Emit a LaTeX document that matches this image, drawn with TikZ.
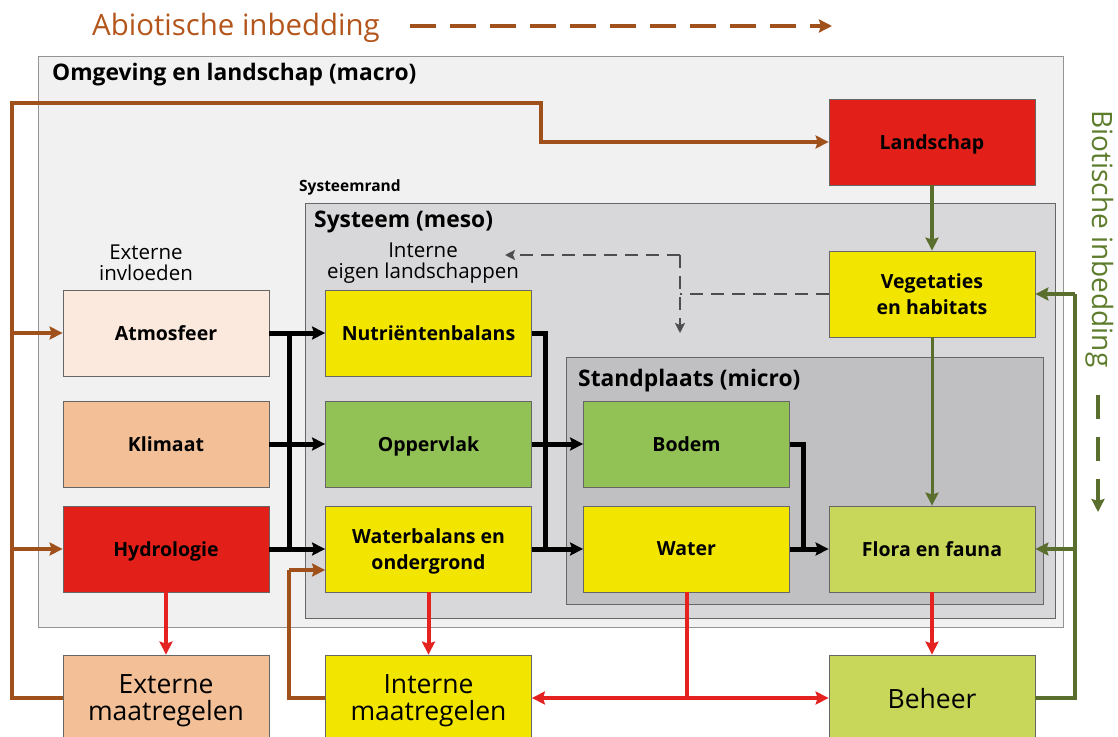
\documentclass[tikz,border=0pt]{standalone}
\usepackage{fontspec}
\setmainfont{Open Sans}
\usepackage{tikz}
\usetikzlibrary{arrows.meta}
\usetikzlibrary{backgrounds}
\usetikzlibrary{calc}
\definecolor{macrogrijs}{HTML}{F1F1F1}
\definecolor{mesogrijs}{HTML}{D8D8DA}
\definecolor{microgrijs}{HTML}{C0C0C2}
\definecolor{rand}{HTML}{666666}
\definecolor{rood}{HTML}{E31F1A}
\definecolor{geel}{HTML}{F2E600}
\definecolor{groen}{HTML}{92C255}
\definecolor{lichtgroen}{HTML}{C8D75A}
\definecolor{perzik}{HTML}{FAE9DC}
\definecolor{oranje}{HTML}{F2BF97}
\definecolor{bruin}{HTML}{A0501A}
\definecolor{bruintekst}{HTML}{B4561C}
\definecolor{donkergroen}{HTML}{5A6E2E}
\definecolor{groentekst}{HTML}{5E7D2C}
\definecolor{lijnrood}{HTML}{E42320}
\definecolor{stippel}{HTML}{4D4D4D}
\tikzset{
blok/.style={draw=rand,line width=0.8pt,minimum width=206pt,minimum height=86pt,inner sep=0pt,text depth=0pt,align=center,font=\bfseries\fontsize{19.5}{26}\selectfont},
maatregel/.style={blok,font=\fontsize{26.5}{27}\selectfont},
kop/.style={anchor=west,inner sep=0pt,font=\bfseries\fontsize{22.8}{26}\selectfont},
bruinpijl/.style={draw=bruin,line width=4pt,-{Stealth[length=13pt,width=13pt,inset=2pt]}},
zwartpijl/.style={draw=black,line width=5pt,-{Stealth[length=13pt,width=13pt,inset=2pt]}},
groenpijl/.style={draw=donkergroen,line width=4pt,-{Stealth[length=13pt,width=13pt,inset=2pt]}},
roodpijl/.style={draw=lijnrood,line width=4pt,-{Stealth[length=13pt,width=13pt,inset=2pt]}},
stippelpijl/.style={draw=stippel,line width=2pt,dash pattern=on 13pt off 8pt,-{Stealth[length=10pt,width=10pt,inset=2pt]}}
}
\begin{document}
\begin{tikzpicture}[x=1pt,y=-1pt]
\path[clip] (0,0) rectangle (1118,736);
\fill[white] (0,0) rectangle (1118,736);
\draw[rand!70,line width=1pt,fill=macrogrijs] (38,56) rectangle (1063,627);
\draw[rand,line width=1pt,fill=mesogrijs] (305,203) rectangle (1055,618);
\draw[rand,line width=1pt,fill=microgrijs] (566,357) rectangle (1043,604);

\node[kop] (MA) at (52,75) {Omgeving en landschap (macro)};
\node[kop,font=\bfseries\fontsize{15.5}{18}\selectfont] (SR) at (299,187) {Systeemrand};
\node[kop] (ME) at (314,222) {Systeem (meso)};
\node[kop] (MI) at (578,381) {Standplaats (micro)};
\node[align=center,inner sep=0pt,font=\fontsize{20.5}{21}\selectfont] (EI) at (146,263) {Externe\\invloeden};
\node[align=center,inner sep=0pt,font=\fontsize{20.5}{21}\selectfont] (II) at (423,263) {Interne\\eigen landschappen};
\node[anchor=west,inner sep=0pt,text=bruintekst,font=\fontsize{29.4}{32}\selectfont] (AB) at (92,28) {Abiotische inbedding};
\node[rotate=-90,inner sep=0pt,text=groentekst,font=\fontsize{28}{30}\selectfont] (BI) at (1100,239) {Biotische inbedding};

\node[blok,fill=rood] (LS) at (932,142) {Landschap};
\node[blok,fill=geel] (VH) at (932,294) {Vegetaties\\en habitats};
\node[blok,fill=perzik] (AT) at (166,333) {Atmosfeer};
\node[blok,fill=oranje] (KL) at (166,444) {Klimaat};
\node[blok,fill=rood] (HY) at (166,549) {Hydrologie};
\node[blok,fill=geel] (NB) at (428.5,333) {Nutriëntenbalans};
\node[blok,fill=groen] (OV) at (428.5,444) {Oppervlak};
\node[blok,fill=geel] (WB) at (428.5,549) {Waterbalans en\\ondergrond};
\node[blok,fill=groen] (BO) at (686.5,444) {Bodem};
\node[blok,fill=geel] (WA) at (686.5,549) {Water};
\node[blok,fill=lichtgroen] (FF) at (932,549) {Flora en fauna};
\node[maatregel,fill=oranje] (EM) at (166,698) {Externe\\maatregelen};
\node[maatregel,fill=geel] (IM) at (428.5,698) {Interne\\maatregelen};
\node[maatregel,fill=lichtgroen] (BH) at (932,698) {Beheer};

\coordinate (K1) at (12,103);
\coordinate (K2) at (541,103);
\coordinate (K3) at (289,570);
\coordinate (Z1) at (289,0);
\coordinate (Z2) at (545,0);
\coordinate (Z3) at (803,0);
\coordinate (G1) at (1075,0);
\coordinate (D1) at (680,255);
\coordinate (D2) at (680,333);
\coordinate (D3) at (505,255);
\coordinate (AE) at (832,26);
\coordinate (BS) at (1098,395);
\coordinate (BE) at (1098,512);

\draw[bruinpijl,dash pattern=on 26pt off 14pt] ([xshift=30]AB.east |- AE) -- (AE);
\draw[groenpijl,dash pattern=on 24pt off 18pt] (BS) -- (BE);

\draw[stippelpijl,-] (VH.west) -- (VH.west -| D1);
\draw[stippelpijl] (D1) -- (D2);
\draw[stippelpijl] (D1) -- (D3);

\draw[bruinpijl,-] (EM.west) -| (K1) -- (K2) |- ([xshift=-12]LS.west);
\draw[bruinpijl] ([xshift=-13]LS.west) -- (LS.west);
\draw[bruinpijl] (K1 |- AT.west) -- (AT.west);
\draw[bruinpijl] (K1 |- HY.west) -- (HY.west);
\draw[bruinpijl,-] (IM.west) -| (K3);
\draw[bruinpijl] (K3) -- (K3 -| WB.west);

\draw[zwartpijl,-] (Z1 |- AT.east) -- (Z1 |- HY.east);
\draw[zwartpijl] (AT.east) -- (NB.west);
\draw[zwartpijl] (KL.east) -- (OV.west);
\draw[zwartpijl] (HY.east) -- (WB.west);
\draw[zwartpijl,-] (NB.east) -| (Z2 |- WA.west);
\draw[zwartpijl] (OV.east) -- (BO.west);
\draw[zwartpijl] (WB.east) -- (WA.west);
\draw[zwartpijl,-] (BO.east) -| (Z3 |- FF.west);
\draw[zwartpijl] (WA.east) -- (FF.west);

\draw[groenpijl] (LS) -- (VH);
\draw[groenpijl,line width=3pt] (VH) -- (FF);
\draw[groenpijl,-] (BH.east) -| (G1 |- VH.east);
\draw[groenpijl] (G1 |- VH.east) -- (VH.east);
\draw[groenpijl] (G1 |- FF.east) -- (FF.east);

\draw[roodpijl] (HY) -- (EM);
\draw[roodpijl] (WB) -- (IM);
\draw[roodpijl] (FF) -- (BH);
\draw[roodpijl,-] (WA.south) -- (WA.south |- BH.west);
\draw[roodpijl,{Stealth[length=13pt,width=13pt,inset=2pt]}-{Stealth[length=13pt,width=13pt,inset=2pt]}] (IM.east) -- (BH.west);
\end{tikzpicture}
\end{document}
